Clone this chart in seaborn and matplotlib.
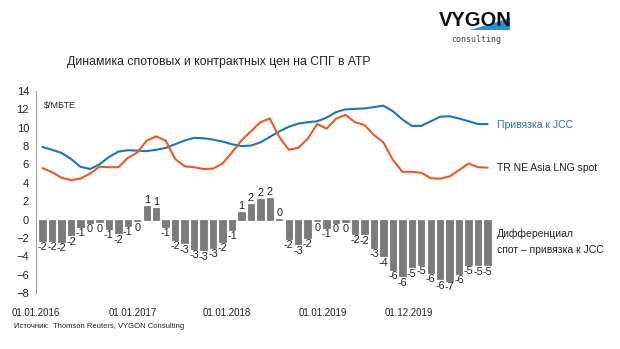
import matplotlib
matplotlib.use("Agg")
import matplotlib.pyplot as plt
from matplotlib.patches import Polygon
import seaborn as sns
import pandas as pd
import numpy as np

# ---- data ----
months = list(range(48))
jcc = [7.9, 7.6, 7.25, 6.6, 5.75, 5.5, 6.0, 6.8, 7.4, 7.55, 7.5, 7.45,
       7.6, 7.8, 8.2, 8.6, 8.9, 8.85, 8.7, 8.5, 8.2, 8.0, 8.05, 8.4,
       9.0, 9.6, 10.1, 10.45, 10.6, 10.7, 11.1, 11.7, 12.0, 12.05, 12.1, 12.25,
       12.4, 11.8, 10.9, 10.2, 10.2, 10.7, 11.2, 11.25, 11.0, 10.7, 10.4, 10.4]
spot = [5.6, 5.15, 4.55, 4.3, 4.45, 5.0, 5.75, 5.7, 5.7, 6.7, 7.3, 8.6,
        9.05, 8.6, 6.6, 5.8, 5.7, 5.5, 5.55, 6.1, 7.3, 8.6, 9.6, 10.6,
        11.0, 9.0, 7.6, 7.8, 8.8, 10.4, 9.9, 11.0, 11.4, 10.6, 10.3, 9.2,
        8.4, 6.5, 5.2, 5.2, 5.1, 4.5, 4.45, 4.7, 5.4, 6.1, 5.7, 5.65]
diff = [-2.3, -2.3, -2.4, -1.7, -0.8, -0.36, -0.3, -1.0, -1.5, -0.7, -0.2, 1.45,
        1.23, -0.8, -2.2, -2.6, -3.2, -3.35, -3.1, -2.4, -1.1, 0.8, 1.7, 2.2,
        2.3, 0.05, -2.1, -2.7, -2.0, -0.18, -0.9, -0.36, -0.3, -1.55, -1.63, -3.1,
        -4.0, -5.5, -6.2, -5.2, -4.9, -5.8, -6.5, -6.7, -5.9, -4.9, -5.0, -5.0]
diff_labels = ["-2", "-2", "-2", "-2", "-1", "0", "0", "-1", "-2", "-1", "0", "1",
               "1", "-1", "-2", "-3", "-3", "-3", "-3", "-2", "-1", "1", "2", "2",
               "2", "0", "-2", "-3", "-2", "0", "-1", "0", "0", "-2", "-2", "-3",
               "-4", "-6", "-6", "-5", "-5", "-6", "-6", "-7", "-6", "-5", "-5", "-5"]
x_tick_labels = ["01.01.2016", "01.01.2017", "01.01.2018", "01.01.2019", "01.12.2019"]
series_names = ["Привязка к JCC", "TR NE Asia LNG spot", "Дифференциал\nспот – привязка к JCC"]
title = "Динамика спотовых и контрактных цен на СПГ в АТР"
unit = "$/МБТЕ"
source = "Источник:  Thomson Reuters, VYGON Consulting"

df = pd.DataFrame({"m": months, "jcc": jcc, "spot": spot, "diff": diff})

# ---- style ----
sns.set_style("white")
plt.rcParams["font.family"] = ["Liberation Sans", "DejaVu Sans"]

BLUE = "#1b75bb"
ORANGE = "#ee5a24"
GRAY = "#7b7b7b"
TXT = "#222222"

fig = plt.figure(figsize=(6.2, 3.49), dpi=100)
ax = fig.add_axes([0.058, 0.1605, 0.736, 0.5788])

sns.barplot(data=df, x="m", y="diff", color=GRAY, width=0.68, ax=ax,
            saturation=1, edgecolor="#5a5a5a", linewidth=0.4)
sns.lineplot(data=df, x="m", y="jcc", color=BLUE, lw=1.5, ax=ax)
sns.lineplot(data=df, x="m", y="spot", color=ORANGE, lw=1.5, ax=ax)

ax.bar_label(ax.containers[0], labels=diff_labels, padding=1, fontsize=7.8, color=TXT)

ax.set_ylim(-8, 14)
ax.set_yticks(np.arange(-8, 15, 2))
ax.set_xlim(-0.5, 47.5)
ax.set_xlabel("")
ax.set_ylabel("")
ax.set_xticks([-0.7, 9.5, 19.5, 29.6, 38.7])
ax.set_xticklabels(x_tick_labels, fontsize=7, color=TXT)
ax.tick_params(axis="x", length=0, pad=11)
ax.tick_params(axis="y", length=3, width=0.7, color="#a0a0a0", labelsize=8,
               labelcolor=TXT, pad=2)
for s in ["top", "right", "bottom"]:
    ax.spines[s].set_visible(False)
ax.spines["left"].set_color("#a0a0a0")
ax.spines["left"].set_linewidth(0.8)

ax.text(0.018, 0.93, unit, transform=ax.transAxes, fontsize=6.5, color=TXT,
        va="center", ha="left")

# legend-like labels on the right
fig.text(497 / 620, 1 - 125 / 349, series_names[0], color=BLUE, fontsize=7.5, va="center")
fig.text(497 / 620, 1 - 168 / 349, series_names[1], color=TXT, fontsize=7.5, va="center")
fig.text(497 / 620, 1 - 242 / 349, series_names[2], color=TXT, fontsize=7.5,
         va="center", linespacing=1.7)

fig.text(67 / 620, 1 - 62 / 349, title, fontsize=8.8, color=TXT, va="center")
fig.text(14 / 620, 1 - 327 / 349, source, fontsize=5.5, color=TXT, va="center")

# logo
wedge = Polygon([(470 / 620, 1 - 30 / 349), (510 / 620, 1 - 18 / 349), (510 / 620, 1 - 30 / 349)],
                closed=True, transform=fig.transFigure, facecolor="#2a8fd6",
                edgecolor="none", zorder=0)
fig.patches.append(wedge)
fig.text(475 / 620, 1 - 21 / 349, "VYGON", fontsize=14.5, fontweight="bold", color="#111111",
         ha="center", va="center", zorder=2)
fig.text(476 / 620, 1 - 40 / 349, "consulting", fontsize=6, color="#444444",
         ha="center", va="center", family="DejaVu Sans Mono")

fig.savefig("out.png", dpi=100)
